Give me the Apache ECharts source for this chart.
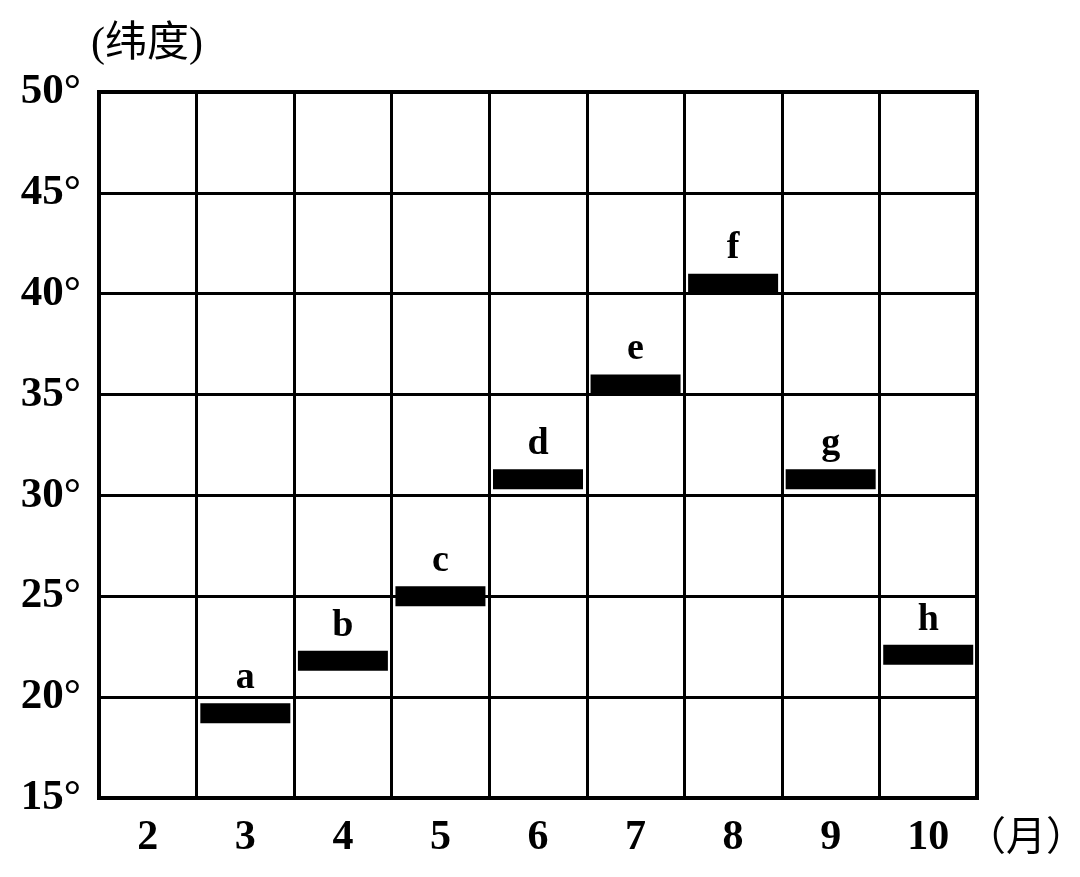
<!DOCTYPE html>
<html>
<head>
<meta charset="utf-8">
<script src="https://cdn.jsdelivr.net/npm/echarts@6/dist/echarts.min.js"></script>
<style>
html,body{margin:0;padding:0;background:#fff;}
#chart{width:1080px;height:877px;}
</style>
</head>
<body>
<div id="chart"></div>
<script>
const months = ['2', '3', '4', '5', '6', '7', '8', '9', '10'];
const beltMonths = ['3', '4', '5', '6', '7', '8', '9', '10'];
const beltLatitude = [19.2, 21.8, 25.0, 30.8, 35.5, 40.5, 30.8, 22.1];
const beltLabels = ['a', 'b', 'c', 'd', 'e', 'f', 'g', 'h'];
const latMin = 15, latMax = 50, latStep = 5;
const yTitle = '(纬度)';
const xUnit = '（月）';

const serif = '"Liberation Serif", "Noto Sans CJK SC", serif';
const chart = echarts.init(document.getElementById('chart'));
chart.setOption({
  backgroundColor: '#fff',
  animation: false,
  title: {
    text: yTitle,
    left: 86, top: 19,
    textStyle: {fontFamily: serif, fontSize: 42, fontWeight: 'normal', color: '#000'}
  },
  graphic: [{
    type: 'text', left: 966, top: 815,
    style: {text: xUnit, font: 'normal 40px "Noto Sans CJK SC", serif', fill: '#000'}
  }],
  grid: {left: 99, right: 103, top: 92, bottom: 79, show: true, borderColor: '#000', borderWidth: 4, containLabel: false},
  xAxis: {
    type: 'category', data: months, boundaryGap: true,
    axisLine: {show: true, lineStyle: {color: '#000', width: 4}},
    axisTick: {show: false},
    axisLabel: {interval: 0, margin: 19, color: '#000', fontFamily: serif, fontSize: 42, fontWeight: 'bold'},
    splitLine: {show: true, interval: 0, lineStyle: {color: '#000', width: 3}}
  },
  yAxis: {
    type: 'value', min: latMin, max: latMax, interval: latStep,
    axisLine: {show: true, lineStyle: {color: '#000', width: 4}},
    axisTick: {show: false},
    axisLabel: {formatter: '{value}°', margin: 18, color: '#000', fontFamily: serif, fontSize: 43, fontWeight: 'bold'},
    splitLine: {show: true, lineStyle: {color: '#000', width: 3}}
  },
  series: [{
    type: 'scatter',
    symbol: 'rect',
    symbolSize: [90, 20],
    itemStyle: {color: '#000', opacity: 1},
    data: beltMonths.map((m, i) => ({value: [m, beltLatitude[i]], name: beltLabels[i]})),
    label: {
      show: true, position: 'top', distance: 6,
      formatter: p => p.name,
      color: '#000', fontFamily: serif, fontSize: 38, fontWeight: 'bold'
    },
    emphasis: {disabled: true}
  }]
});
</script>
</body>
</html>
